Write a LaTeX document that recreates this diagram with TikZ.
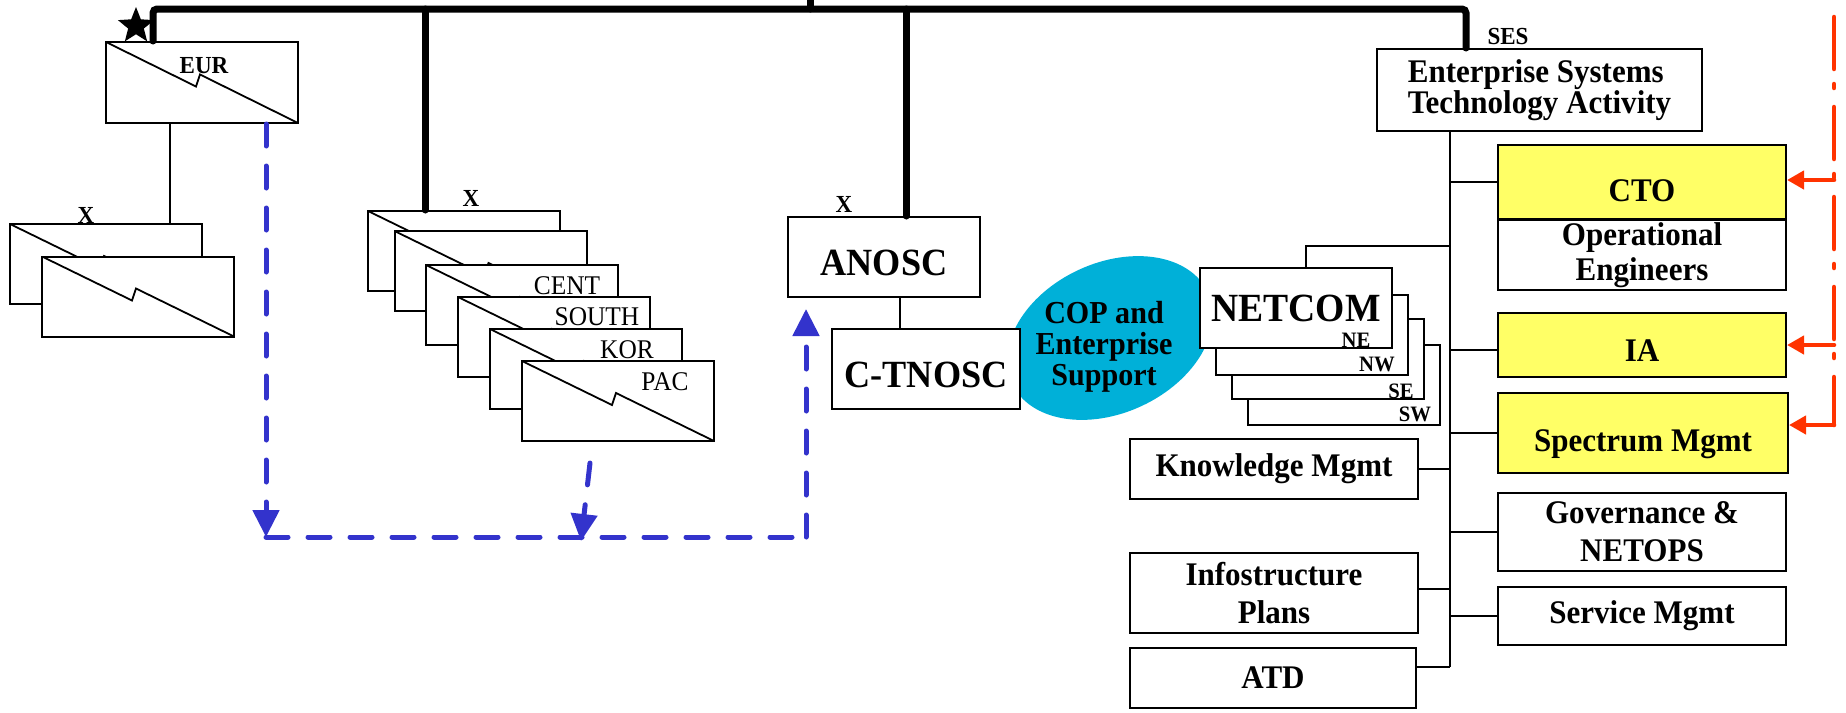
\documentclass[tikz,border=0pt]{standalone}
\usepackage{fontspec}
\setmainfont{Liberation Serif}[FakeStretch=0.94]
\usetikzlibrary{arrows.meta,shapes.geometric}
\definecolor{boxyellow}{RGB}{255,255,102}
\definecolor{copcyan}{RGB}{0,176,216}
\definecolor{linkblue}{RGB}{51,51,204}
\definecolor{linkred}{RGB}{255,51,0}

\begin{document}
\begin{tikzpicture}[x=1pt,y=-1pt,
	box/.style={rectangle,draw,line width=2pt,fill=white,inner sep=0pt,align=center,font=\bfseries\fontsize{33}{38}\selectfont},
	ybox/.style={box,fill=boxyellow},
	nbox/.style={box,minimum width=192pt,minimum height=80pt},
	zbox/.style={nbox,path picture={\draw[line width=1.8pt] (path picture bounding box.north west) -- ([shift={(-6,4)}]path picture bounding box.center) -- ([shift={(-2,-8)}]path picture bounding box.center) -- (path picture bounding box.south east);}},
	sink/.style={text height=#1,text depth=0pt},
	tag/.style={inner sep=0pt,font=\bfseries\fontsize{24.5}{24.5}\selectfont},
	reg/.style={inner sep=0pt,font=\fontsize{27}{27}\selectfont},
	sub/.style={inner sep=0pt,font=\bfseries\fontsize{22}{22}\selectfont},
	bar/.style={line width=7pt,line cap=round,rounded corners=4pt},
	conn/.style={line width=1.8pt},
	bluedash/.style={draw=linkblue,line width=5pt,line cap=round,dash pattern=on 22pt off 20pt,-{Triangle[length=27pt,width=26pt]}},
	reddash/.style={draw=linkred,line width=4.5pt,line cap=round,dash pattern=on 52pt off 15pt on 4pt off 19pt,-{Triangle[length=17pt,width=18pt]}}]
	\useasboundingbox (0,0) rectangle (1846,712);
	% regions on the left
	\node[star,star points=5,star point ratio=2.3,fill=black,inner sep=0pt,minimum size=38pt] (star) at (136,26) {};
	\node[zbox,minimum height=81pt] (eur) at (202,82.5) {};
	\node[tag] (eurlbl) at (204,66) {EUR};
	\node[tag] (xleft) at (86,215) {X};
	\node[zbox] (xa) at (106,264) {};
	\node[zbox] (xb) at (138,296.5) {};
	\node[tag] (xmid) at (471,198) {X};
	\node[zbox] (s1) at (464,251) {};
	\node[zbox] (s2) at (490.5,271) {};
	\node[zbox] (cent) at (522,305) {};
	\node[reg] (centlbl) at (567,286) {CENT};
	\node[zbox] (south) at (554,337) {};
	\node[reg] (southlbl) at (597,317) {SOUTH};
	\node[zbox] (kor) at (586,369) {};
	\node[reg] (korlbl) at (627,350) {KOR};
	\node[zbox] (pac) at (618,401) {};
	\node[reg] (paclbl) at (665,382) {PAC};
	% operations centres
	\node[tag] (xanosc) at (844,204) {X};
	\node[nbox,sink=37pt,font=\bfseries\fontsize{38.5}{38.5}\selectfont] (anosc) at (884,257) {ANOSC};
	\node[ellipse,fill=copcyan,inner sep=0pt,minimum width=216pt,minimum height=150pt,rotate=25] (copbg) at (1110,338) {};
	\node[box,sink=37pt,minimum width=188pt,minimum height=80pt,font=\bfseries\fontsize{38.5}{38.5}\selectfont] (ctnosc) at (926,369) {C-TNOSC};
	\node[inner sep=0pt,align=center,font=\bfseries\fontsize{32}{31}\selectfont] (cop) at (1104,347) {COP and\\Enterprise\\Support};
	\node[nbox] (sw) at (1344,384.5) {};
	\node[sub] (swlbl) at (1415,414.5) {SW};
	\node[nbox] (se) at (1328,358.5) {};
	\node[sub] (selbl) at (1401,391) {SE};
	\node[nbox] (nw) at (1312,334.5) {};
	\node[sub] (nwlbl) at (1377,364.5) {NW};
	\node[nbox,font=\bfseries\fontsize{40}{40}\selectfont] (netcom) at (1296,308) {NETCOM};
	\node[sub] (nelbl) at (1356,340.5) {NE};
	% SES side
	\node[tag] (ses) at (1508,37) {SES};
	\node[box,minimum width=325pt,minimum height=82pt,align=left,font=\bfseries\fontsize{33}{30}\selectfont] (esta) at (1539.5,90) {Enterprise Systems\\Technology Activity};
	\node[ybox,sink=38pt,minimum width=288pt,minimum height=74pt] (cto) at (1642,182) {CTO};
	\node[box,minimum width=288pt,minimum height=70pt,font=\bfseries\fontsize{33}{35}\selectfont] (openg) at (1642,255) {Operational\\Engineers};
	\node[ybox,sink=32pt,minimum width=288pt,minimum height=64pt] (ia) at (1642,345) {IA};
	\node[ybox,sink=36pt,minimum width=290pt,minimum height=80pt] (spec) at (1643,433) {Spectrum Mgmt};
	\node[box,minimum width=288pt,minimum height=78pt] (gov) at (1642,532) {Governance \&\\NETOPS};
	\node[box,minimum width=288pt,minimum height=58pt] (svc) at (1642,616) {Service Mgmt};
	\node[box,minimum width=288pt,minimum height=60pt] (km) at (1274,469) {Knowledge Mgmt};
	\node[box,minimum width=288pt,minimum height=80pt] (info) at (1274,593) {Infostructure\\Plans};
	\node[box,minimum width=286pt,minimum height=60pt] (atd) at (1273,678) {ATD};
	% command bar
	\coordinate (bl) at (153,9);
	\coordinate (br) at (1466,9);
	\coordinate (up) at (810,0);
	\draw[bar] (bl |- eur.north) -- (bl) -- (br) -- (br |- esta.north);
	\draw[bar] (up) -- (up |- bl);
	\draw[bar] ([xshift=58pt]s1.north west) -- ([xshift=58pt]s1.north west |- bl);
	\draw[bar] ([xshift=22pt]anosc.north) -- ([xshift=22pt]anosc.north |- bl);
	\draw[conn] ([xshift=-32pt]eur.south) -- ([xshift=-32pt]eur.south |- xa.north);
	\draw[conn] ([xshift=16pt]anosc.south) -- ([xshift=16pt]anosc.south |- ctnosc.north);
	% trunk under SES
	\coordinate (tr) at (1450,667);
	\draw[conn] (esta.south -| tr) -- (tr);
	\draw[conn] (cto.west) -- (cto.west -| tr);
	\draw[conn] ([yshift=-5pt]ia.west) -- ([yshift=-5pt]ia.west -| tr);
	\draw[conn] (spec.west) -- (spec.west -| tr);
	\draw[conn] (gov.west) -- (gov.west -| tr);
	\draw[conn] (svc.west) -- (svc.west -| tr);
	\draw[conn] (km.east) -- (km.east -| tr);
	\draw[conn] ([yshift=4pt]info.east) -- ([yshift=4pt]info.east -| tr);
	\draw[conn] ([yshift=11pt]atd.east) -- (tr);
	\draw[conn] ([xshift=10pt]netcom.north) |- ([yshift=21pt]netcom.north -| tr);
	% reporting links
	\coordinate (dl) at (266,537);
	\coordinate (dr) at (806,537);
	\coordinate (dm) at (581,541);
	\coordinate (pm) at ([shift={(-28,21)}]pac.south);
	\draw[bluedash] (eur.south -| dl) -- (dl);
	\draw[bluedash,-] (dl) -- (dr);
	\draw[bluedash] (dr) -- ([yshift=-11pt]anosc.south -| dr);
	\draw[bluedash] (pm) -- (dm);
	\coordinate (rt) at (1834,0);
	\coordinate (rc) at (1834,180);
	\coordinate (ri) at (1834,345);
	\coordinate (rs) at (1834,425);
	\draw[reddash,-,dash phase=73pt] (rt) -- (rs);
	\draw[reddash] (rs) -- (rs -| spec.east);
	\draw[reddash] (rc) -- (rc -| cto.east);
	\draw[reddash] (ri) -- (ri -| ia.east);
\end{tikzpicture}
\end{document}
